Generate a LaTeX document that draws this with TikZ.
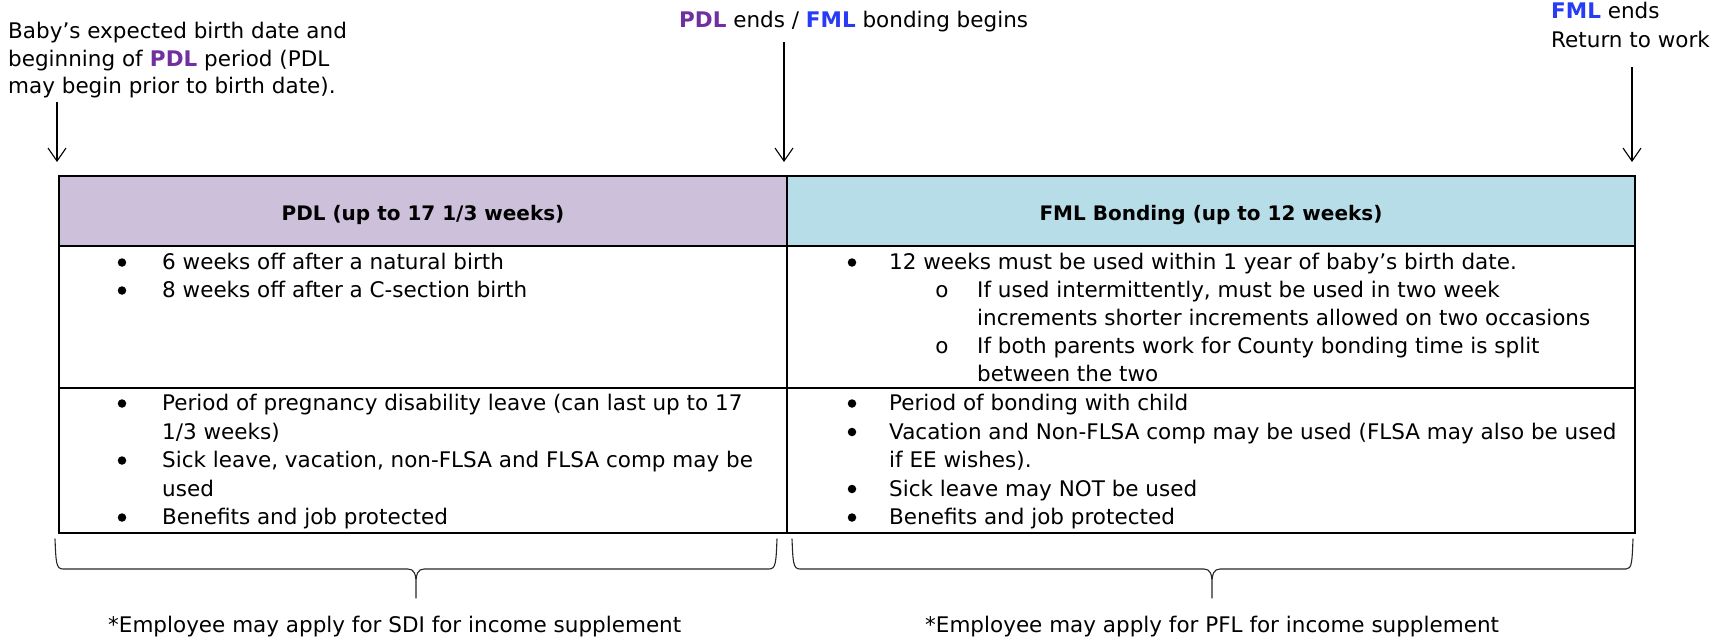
\documentclass[tikz,border=0pt]{standalone}
\usepackage{fontspec}
\setmainfont{DejaVu Sans}
\usetikzlibrary{arrows.meta}
\definecolor{pdlhead}{RGB}{204,192,218}
\definecolor{fmlhead}{RGB}{183,222,232}
\definecolor{pdlcol}{RGB}{112,48,160}
\definecolor{fmlcol}{RGB}{40,60,245}
\newcommand{\pdlword}{\textbf{\textcolor{pdlcol}{PDL}}}
\newcommand{\fmlword}{\textbf{\textcolor{fmlcol}{FML}}}
\begin{document}
\begin{tikzpicture}[x=1pt,y=-1pt,
  txt/.style={anchor=base west, inner sep=0pt, font=\fontsize{21.5}{28}\selectfont},
  bul/.style={anchor=base, inner sep=0pt, font=\fontsize{21.5}{28}\selectfont},
  dot/.style={circle, fill=black, inner sep=0pt, minimum size=8.5pt},
  hdr/.style={anchor=base, inner sep=0pt, font=\fontsize{20}{26}\selectfont\bfseries},
  cell/.style={draw=black, line width=1.3pt, rectangle, inner sep=0pt, outer sep=0pt},
  pointer/.style={-{Straight Barb[length=13pt,width=18pt,line width=1.1pt]}, line width=1.1pt},
  bracepath/.style={line width=1.1pt, draw=black!85, line cap=round, line join=round}]
\useasboundingbox (0,0) rectangle (1723,641);
% table cells
\node[cell, fill=pdlhead, minimum width=728pt, minimum height=70pt] (pdlh) at (423,211) {};
\node[cell, fill=fmlhead, minimum width=848pt, minimum height=70pt] (fmlh) at (1211,211) {};
\node[cell, minimum width=728pt, minimum height=142pt] (r1l) at (423,317) {};
\node[cell, minimum width=848pt, minimum height=142pt] (r1r) at (1211,317) {};
\node[cell, minimum width=728pt, minimum height=145pt] (r2l) at (423,460.5) {};
\node[cell, minimum width=848pt, minimum height=145pt] (r2r) at (1211,460.5) {};
% headers
\node[hdr] (pdlht) at (423,220) {PDL (up to 17 1/3 weeks)};
\node[hdr] (fmlht) at (1211,220) {FML Bonding (up to 12 weeks)};
% row 1 left
\node[dot] (b11) at (122,262.5) {};
\node[txt] (t11) at (162,269.5) {6 weeks off after a natural birth};
\node[dot] (b12) at (122,290.5) {};
\node[txt] (t12) at (162,297.5) {8 weeks off after a C-section birth};
% row 1 right
\node[dot] (b13) at (852,262.5) {};
\node[txt] (t13) at (889,269.5) {12 weeks must be used within 1 year of baby’s birth date.};
\node[bul] (s11) at (942,297.5) {o};
\node[txt] (t14) at (977,297.5) {If used intermittently, must be used in two week};
\node[txt] (t15) at (977,325.5) {increments shorter increments allowed on two occasions};
\node[bul] (s12) at (942,353.5) {o};
\node[txt] (t16) at (977,353.5) {If both parents work for County bonding time is split};
\node[txt] (t17) at (977,381.5) {between the two};
% row 2 left
\node[dot] (b21) at (122,403.5) {};
\node[txt] (t21) at (162,410.5) {Period of pregnancy disability leave (can last up to 17};
\node[txt] (t22) at (162,439) {1/3 weeks)};
\node[dot] (b22) at (122,460.5) {};
\node[txt] (t23) at (162,467.5) {Sick leave, vacation, non-FLSA and FLSA comp may be};
\node[txt] (t24) at (162,496) {used};
\node[dot] (b23) at (122,517.5) {};
\node[txt] (t25) at (162,524.5) {Benefits and job protected};
% row 2 right
\node[dot] (b24) at (852,403.5) {};
\node[txt] (t26) at (889,410.5) {Period of bonding with child};
\node[dot] (b25) at (852,432) {};
\node[txt] (t27) at (889,439) {Vacation and Non-FLSA comp may be used (FLSA may also be used};
\node[txt] (t28) at (889,467.5) {if EE wishes).};
\node[dot] (b26) at (852,489) {};
\node[txt] (t29) at (889,496) {Sick leave may NOT be used};
\node[dot] (b27) at (852,517.5) {};
\node[txt] (t30) at (889,524.5) {Benefits and job protected};
% top labels
\node[txt] (l1a) at (8,38) {Baby’s expected birth date and};
\node[txt] (l1b) at (8,66) {beginning of \pdlword{} period (PDL};
\node[txt] (l1c) at (8,93) {may begin prior to birth date).};
\node[txt] (l2) at (679,27) {\pdlword{} ends / \fmlword{} bonding begins};
\node[txt] (l3a) at (1551,18) {\fmlword{} ends};
\node[txt] (l3b) at (1551,47) {Return to work};
% arrows
\coordinate (a1s) at (57,102); \coordinate (a1e) at (57,162);
\coordinate (a2s) at (784,42); \coordinate (a2e) at (784,162);
\coordinate (a3s) at (1632,67); \coordinate (a3e) at (1632,162);
\draw[pointer] (a1s) -- (a1e);
\draw[pointer] (a2s) -- (a2e);
\draw[pointer] (a3s) -- (a3e);
% braces
\draw[bracepath] (55,539) .. controls (56,562) and (56,569) .. (63,569) -- (408,569)
  .. controls (414,569) and (416,574) .. (416,583) -- (416,598)
  (416,583) .. controls (416,574) and (418,569) .. (424,569) -- (769,569)
  .. controls (776,569) and (776,562) .. (777,539);
\draw[bracepath] (792,539) .. controls (793,562) and (793,569) .. (800,569) -- (1204,569)
  .. controls (1210,569) and (1212,574) .. (1212,583) -- (1212,598)
  (1212,583) .. controls (1212,574) and (1214,569) .. (1220,569) -- (1626,569)
  .. controls (1632,569) and (1632,562) .. (1633,539);
% footnotes
\node[txt] (f1) at (108,632) {*Employee may apply for SDI for income supplement};
\node[txt] (f2) at (925,632) {*Employee may apply for PFL for income supplement};
\end{tikzpicture}
\end{document}
